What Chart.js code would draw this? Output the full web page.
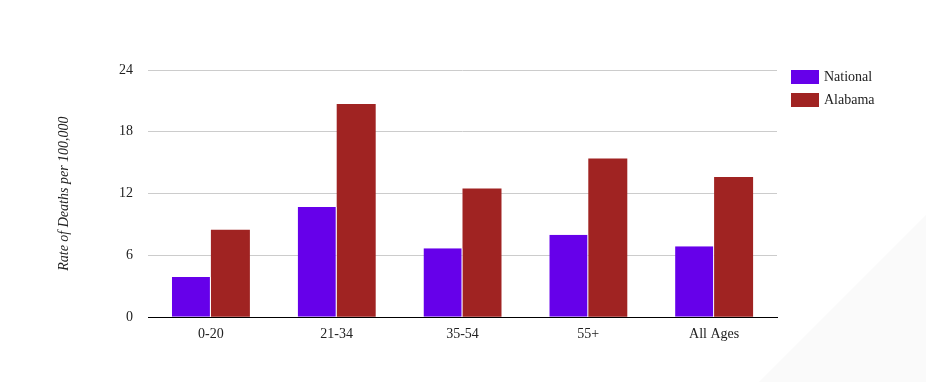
<!DOCTYPE html>
<html>
<head>
<meta charset="utf-8">
<script src="https://cdn.jsdelivr.net/npm/chart.js@4/dist/chart.umd.min.js"></script>
<style>
  html, body { margin: 0; padding: 0; background: #fff; }
  #wrap { width: 926px; height: 382px; }
</style>
</head>
<body>
<div id="wrap"><canvas id="c" width="926" height="382"></canvas></div>
<script>
const categories = ["0-20", "21-34", "35-54", "55+", "All Ages"];
const nationalValues = [3.9, 10.7, 6.7, 8.0, 6.9];
const alabamaValues = [8.5, 20.7, 12.5, 15.4, 13.6];
const seriesNames = ["National", "Alabama"];
const yTicks = [0, 6, 12, 18, 24];
const axisTitle = "Rate of Deaths per 100,000";

const FONT = "'Liberation Serif', 'Times New Roman', serif";

const bgPattern = {
  id: 'bgPattern',
  beforeDraw(chart) {
    const ctx = chart.ctx;
    ctx.save();
    ctx.fillStyle = '#fafafa';
    ctx.beginPath();
    ctx.moveTo(926, 215);
    ctx.lineTo(926, 382);
    ctx.lineTo(759, 382);
    ctx.closePath();
    ctx.fill();
    ctx.restore();
  }
};

const customLegend = {
  id: 'customLegend',
  afterDraw(chart) {
    const ctx = chart.ctx;
    ctx.save();
    ctx.font = "14px " + FONT;
    ctx.textBaseline = 'middle';
    chart.data.datasets.forEach((ds, i) => {
      const y = 70 + i * 23;
      ctx.fillStyle = ds.backgroundColor;
      ctx.fillRect(791, y, 28, 14);
      ctx.fillStyle = '#222';
      ctx.fillText(ds.label, 824, y + 7.5);
    });
    ctx.restore();
  }
};

new Chart(document.getElementById('c'), {
  type: 'bar',
  data: {
    labels: categories,
    datasets: [
      { label: seriesNames[0], data: nationalValues, backgroundColor: '#6600ea',
        borderColor: '#ffffff', borderWidth: { right: 1, left: 0, top: 0, bottom: 0 }, borderSkipped: false },
      { label: seriesNames[1], data: alabamaValues, backgroundColor: '#a02322',
        borderWidth: 0 }
    ]
  },
  options: {
    responsive: false,
    animation: false,
    devicePixelRatio: 1,
    layout: { padding: { left: 52, right: 149, top: 70, bottom: 30 } },
    plugins: { legend: { display: false }, tooltip: { enabled: false } },
    datasets: { bar: { barPercentage: 1.0, categoryPercentage: 0.62 } },
    scales: {
      x: {
        grid: { display: false, drawTicks: false },
        border: { display: true, color: '#000', width: 1 },
        ticks: { color: '#222', font: { family: FONT, size: 14 }, padding: 9 }
      },
      y: {
        min: 0, max: 24,
        afterBuildTicks(scale) { scale.ticks = yTicks.map(v => ({ value: v })); },
        afterFit(scale) { scale.width = 96; },
        grid: { color: '#cccccc', drawTicks: false },
        border: { display: false },
        ticks: { color: '#222', font: { family: FONT, size: 14 }, padding: 15 },
        title: { display: true, text: axisTitle, color: '#222',
                 font: { family: FONT, size: 14, style: 'italic' }, padding: { top: 4, bottom: 4 } }
      }
    }
  },
  plugins: [bgPattern, customLegend]
});
</script>
</body>
</html>
